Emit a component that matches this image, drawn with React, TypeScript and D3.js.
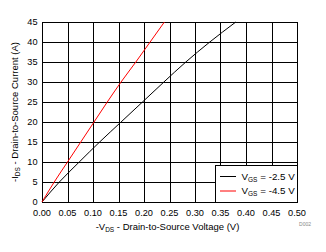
import React from "react";
import * as d3 from "d3";

const xTicks = [0, 0.05, 0.1, 0.15, 0.2, 0.25, 0.3, 0.35, 0.4, 0.45, 0.5];
const yTicks = [0, 5, 10, 15, 20, 25, 30, 35, 40, 45];

const currentA = [0, 5, 10, 15, 20, 25, 30, 35, 40, 45];
const vdsBlack = [0, 0.034, 0.073, 0.113, 0.155, 0.197, 0.239, 0.282, 0.329, 0.38];
const vdsRed = [0, 0.024, 0.05, 0.076, 0.102, 0.128, 0.155, 0.184, 0.212, 0.24];

const seriesNames = ["-2.5 V", "-4.5 V"];
const seriesColors = ["#000000", "#ff0000"];

const W = 326, H = 252;
const L = 42, R = 297, T = 22, B = 202;

export default function App() {
  const x = d3.scaleLinear().domain([0, 0.5]).range([L, R]);
  const y = d3.scaleLinear().domain([0, 45]).range([B, T]);
  const line = d3
    .line<[number, number]>()
    .x((d) => x(d[0]))
    .y((d) => y(d[1]))
    .curve(d3.curveMonotoneY);
  const series = [vdsBlack, vdsRed].map((vs) => vs.map((v, i) => [v, currentA[i]] as [number, number]));
  const font = "Arial, 'Liberation Sans', sans-serif";
  const px = (v: number) => Math.round(v) + 0.5;
  return (
    <svg width={W} height={H} style={{ position: "absolute", left: 0, top: 0 }} fontFamily={font}>
      <rect x={0} y={0} width={W} height={H} fill="#fff" />
      {xTicks.map((t) => (
        <line key={"gx" + t} x1={px(x(t))} x2={px(x(t))} y1={T} y2={B} stroke="#000" strokeWidth={1} />
      ))}
      {yTicks.map((t) => (
        <line key={"gy" + t} x1={L} x2={R} y1={px(y(t))} y2={px(y(t))} stroke="#000" strokeWidth={1} />
      ))}
      <rect x={L + 0.5} y={T + 0.5} width={R - L} height={B - T} fill="none" stroke="#000" strokeWidth={1} />
      {series.map((s, i) => (
        <path key={i} d={line(s) || ""} fill="none" stroke={seriesColors[i]} strokeWidth={1} />
      ))}
      {xTicks.map((t) => (
        <text key={"tx" + t} x={x(t)} y={216} fontSize={9.2} textAnchor="middle" fill="#000">
          {t.toFixed(2)}
        </text>
      ))}
      {yTicks.map((t) => (
        <text key={"ty" + t} x={37.5} y={y(t) + 3.3} fontSize={9.2} textAnchor="end" fill="#000">
          {t}
        </text>
      ))}
      <text x={(L + R) / 2 - 2} y={230} fontSize={9.5} textAnchor="middle" fill="#000">
        -V<tspan fontSize={6.5} dy={2}>DS</tspan>
        <tspan dy={-2}> - Drain-to-Source Voltage (V)</tspan>
      </text>
      <text transform={`translate(18,${(T + B) / 2}) rotate(-90)`} fontSize={9.5} textAnchor="middle" fill="#000">
        -I<tspan fontSize={6.5} dy={2}>DS</tspan>
        <tspan dy={-2}> - Drain-to-Source Current (A)</tspan>
      </text>
      <text x={311} y={226} fontSize={5} textAnchor="end" fill="#888">D002</text>
      <rect x={215.5} y={165.5} width={R - 215} height={B - 165} fill="#fff" stroke="#000" strokeWidth={1} />
      {seriesNames.map((n, i) => (
        <g key={n}>
          <line x1={220} x2={236} y1={176.5 + i * 14.5} y2={176.5 + i * 14.5} stroke={seriesColors[i]} strokeWidth={1} />
          <text x={241.5} y={179.5 + i * 14.5} fontSize={9.8} fill="#000">
            V<tspan fontSize={6.5} dy={2}>GS</tspan>
            <tspan dy={-2}> = {n}</tspan>
          </text>
        </g>
      ))}
    </svg>
  );
}
